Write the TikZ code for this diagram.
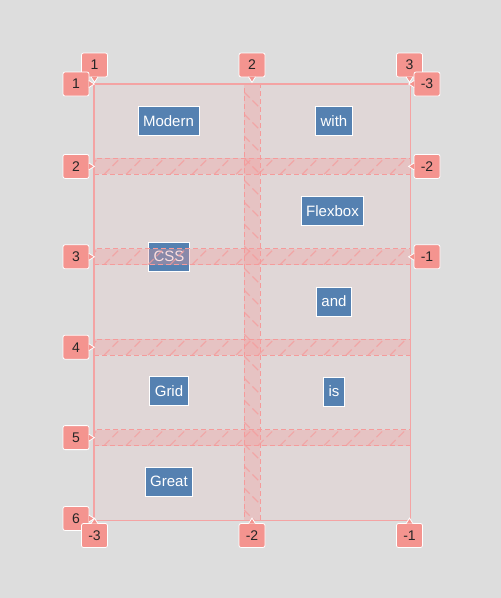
\documentclass[tikz,border=0pt]{standalone}
\usepackage{fontspec}
\setmainfont{Liberation Sans}
\definecolor{bgc}{HTML}{DDDDDD}
\definecolor{contc}{HTML}{E0D7D7}
\definecolor{contline}{HTML}{F4A3A3}
\definecolor{gapc}{HTML}{F59B9B}
\definecolor{itemc}{HTML}{5581B1}
\definecolor{labc}{HTML}{F4948F}
\tikzset{
  itembox/.style={fill=itemc, draw=white, line width=0.8pt, text=white, inner xsep=5pt, inner ysep=0pt,
    minimum height=29pt, font=\fontsize{15}{15}\selectfont},
  labbox/.style={fill=labc, draw=white, line width=0.8pt, rounded corners=2pt, minimum width=26pt,
    minimum height=24pt, inner sep=0pt, text=black!85, font=\fontsize{14}{14}\selectfont},
  ptr/.style={fill=labc, draw=white, line width=0.8pt},
  gapbox/.style={fill=gapc, fill opacity=0.32, draw=gapc, line width=1pt, dash pattern=on 5pt off 3pt},
  hatch/.style={draw=gapc, line width=1.2pt, dash pattern=on 8pt off 4pt, opacity=0.7},
}
\begin{document}
\begin{tikzpicture}[x=1pt,y=-1pt]
\useasboundingbox (0,0) rectangle (501,598);
\fill[bgc] (0,0) rectangle (501,598);
% container
\node[fill=contc, draw=none, minimum width=316pt, minimum height=436pt, inner sep=0pt] (grid) at (252,302) {};
% items
\node[itembox] (modern) at (168.5,121) {Modern};
\node[itembox] (with) at (334,121) {with};
\node[itembox] (flexbox) at (332.5,211) {Flexbox};
\node[itembox] (css) at (169,256.5) {CSS};
\node[itembox] (and) at (334,301.5) {and};
\node[itembox] (gridt) at (169,391) {Grid};
\node[itembox] (is) at (334,391.5) {is};
\node[itembox] (great) at (169,481.5) {Great};
% column gap
\node[gapbox, minimum width=16pt, minimum height=436pt, inner sep=0pt] (cgap) at (252,302) {};
\begin{scope}
  \clip (244,84) rectangle (260,520);
  \foreach \y in {70,92,...,520} \draw[hatch] (244,\y) -- ++(16,16);
\end{scope}
% row gaps
\foreach \n/\yy in {1/166.4, 2/256.8, 3/347.2, 4/437.6}{
  \node[gapbox, minimum width=316pt, minimum height=16pt, inner sep=0pt] (rgap\n) at (252,\yy) {};
  \begin{scope}
    \clip (94,\yy-8) rectangle (410,\yy+8);
    \foreach \x in {82,104,...,420} \draw[hatch] (\x,\yy+8) -- ++(16,-16);
  \end{scope}
}
% container border
\draw[contline, line width=1.4pt] (grid.north west) rectangle (grid.south east);
% top labels
\foreach \nm/\xx/\tx in {t1/94.5/1, t2/252/2, t3/409.5/3}{
  \node[labbox] (\nm) at (\xx,65) {\tx};
  \path[ptr] ([xshift=-3.5pt,yshift=0.6pt]\nm.south) -- ([yshift=-5pt]\nm.south) -- ([xshift=3.5pt,yshift=0.6pt]\nm.south);
}
% left labels
\foreach \nm/\yy/\tx in {l1/84/1, l2/166.4/2, l3/256.8/3, l4/347.2/4, l5/437.6/5, l6/518.5/6}{
  \node[labbox] (\nm) at (76,\yy) {\tx};
  \path[ptr] ([yshift=3.5pt,xshift=-0.6pt]\nm.east) -- ([xshift=5pt]\nm.east) -- ([yshift=-3.5pt,xshift=-0.6pt]\nm.east);
}
% bottom labels
\foreach \nm/\xx/\tx in {b1/94.5/-3, b2/252/-2, b3/409.5/-1}{
  \node[labbox] (\nm) at (\xx,535.5) {\tx};
  \path[ptr] ([xshift=-3.5pt,yshift=-0.6pt]\nm.north) -- ([yshift=5pt]\nm.north) -- ([xshift=3.5pt,yshift=-0.6pt]\nm.north);
}
% right labels
\foreach \nm/\yy/\tx in {r1/84/-3, r2/166.4/-2, r3/256.8/-1}{
  \node[labbox] (\nm) at (427,\yy) {\tx};
  \path[ptr] ([yshift=3.5pt,xshift=0.6pt]\nm.west) -- ([xshift=-5pt]\nm.west) -- ([yshift=-3.5pt,xshift=0.6pt]\nm.west);
}
\end{tikzpicture}
\end{document}
